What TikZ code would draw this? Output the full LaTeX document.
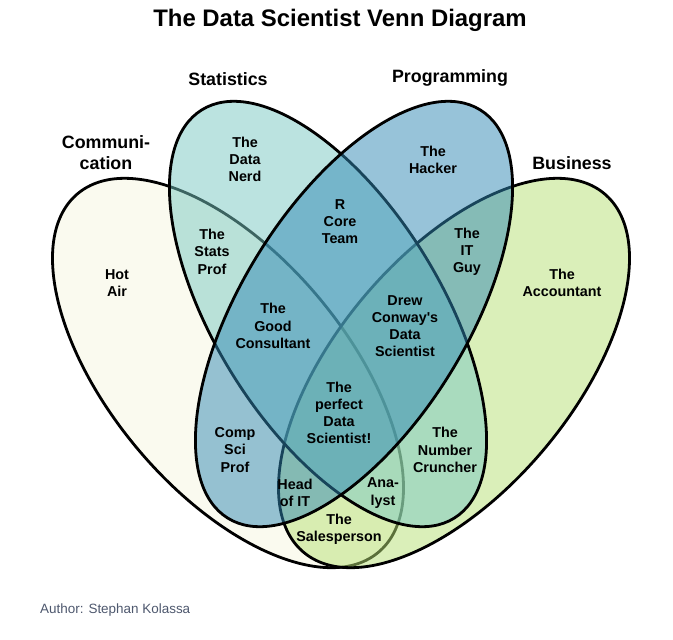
\documentclass[tikz,border=0pt]{standalone}
\usepackage{fontspec}
\setmainfont{Liberation Sans}
\definecolor{cC}{RGB}{247,247,225}
\definecolor{cB}{RGB}{183,225,117}
\definecolor{cS}{RGB}{121,201,195}
\definecolor{cP}{RGB}{49,137,181}
\definecolor{authorcol}{RGB}{78,88,110}
\tikzset{
  venn/.style={line width=2.8bp, draw=black, fill opacity=0.5},
  region/.style={font=\fontsize{14.4}{17.3}\selectfont\bfseries, align=center, inner sep=0pt},
  setlabel/.style={font=\fontsize{17.9}{21}\selectfont\bfseries, align=center, inner sep=0pt},
}
\begin{document}
\begin{tikzpicture}[x=1bp,y=-1bp]
\fill[white] (0,0) rectangle (673,640);
\useasboundingbox (0,0) rectangle (673,640);
% ellipses: Communication, Business, Statistics, Programming
\path[venn, fill=cC, rotate around={-50:(228,373)}] (228,373) ellipse [x radius=234bp, y radius=118bp];
\path[venn, fill=cB, rotate around={50:(454,373)}] (454,373) ellipse [x radius=234bp, y radius=118bp];
\path[venn, fill=cS, rotate around={-58.3:(328,314)}] (328,314) ellipse [x radius=240bp, y radius=113bp];
\path[venn, fill=cP, rotate around={58.3:(354,314)}] (354,314) ellipse [x radius=240bp, y radius=113bp];
% title
\node[font=\fontsize{24}{28}\selectfont\bfseries, inner sep=0pt] (title) at (340,20) {The Data Scientist Venn Diagram};
% set labels
\node[setlabel] (lstat) at (228,79) {Statistics};
\node[setlabel] (lprog) at (450,78) {Programming};
\node[setlabel] (lcomm) at (106,152.5) {Communi-\\cation};
\node[setlabel] (lbus) at (572,163) {Business};
% region labels
\node[region] (nerd) at (245,159.5) {The\\Data\\Nerd};
\node[region] (hacker) at (433,159.7) {The\\Hacker};
\node[region] (rcore) at (340,221.5) {R\\Core\\Team};
\node[region] (statsprof) at (212,251.7) {The\\Stats\\Prof};
\node[region] (itguy) at (467,251.7) {The\\IT\\Guy};
\node[region] (hotair) at (117,283) {Hot\\Air};
\node[region] (accountant) at (562,283) {The\\Accountant};
\node[region] (consultant) at (273,326) {The\\Good\\Consultant};
\node[region] (conway) at (405,326.2) {Drew\\Conway\textquotesingle s\\Data\\Scientist};
\node[region] (perfect) at (339,413) {The\\perfect\\Data\\Scientist!};
\node[region] (compsci) at (235,450) {Comp\\Sci\\Prof};
\node[region] (cruncher) at (445,450) {The\\Number\\Cruncher};
\node[region] (headit) at (295,493) {Head\\of IT};
\node[region] (analyst) at (383,493) {Ana-\\lyst};
\node[region] (sales) at (339,529.5) {The\\Salesperson};
% author
\node[font=\fontsize{13.5}{16}\selectfont, text=authorcol, anchor=west, inner sep=0pt] (author) at (40,610) {Author: Stephan Kolassa};
\end{tikzpicture}
\end{document}
